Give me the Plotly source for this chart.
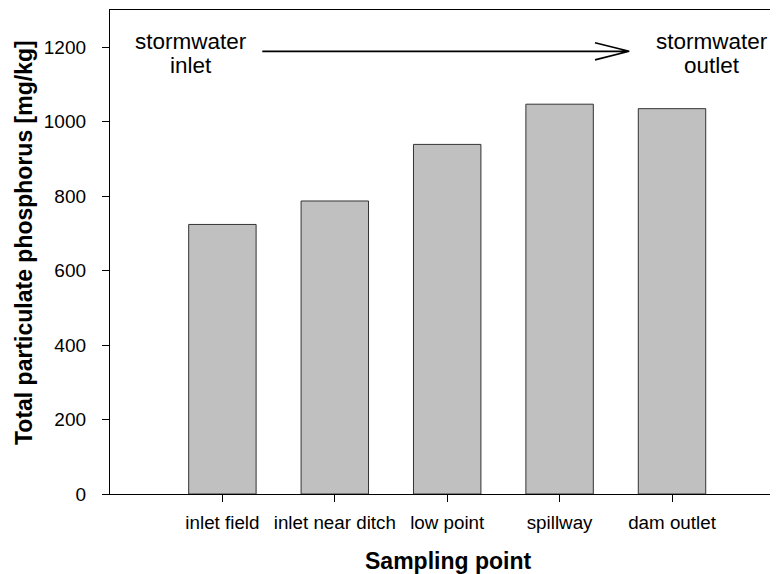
import plotly.graph_objects as go

categories = ["inlet field", "inlet near ditch", "low point", "spillway", "dam outlet"]
tpp_values = [724, 787, 939, 1047, 1035]
y_ticks = [0, 200, 400, 600, 800, 1000, 1200]
x_title = "Sampling point"
y_title = "Total particulate phosphorus [mg/kg]"

FONT = "Liberation Sans, Arial, sans-serif"
OFF = 8  # page body margin
W, H = 778 - OFF, 574 - OFF
ML, MR, MT, MB = 110 - OFF, 0, 10 - OFF, 80

fig = go.Figure()
fig.add_trace(go.Bar(
    x=list(range(len(categories))), y=tpp_values, width=0.6,
    marker=dict(color="#c0c0c0", line=dict(color="#333333", width=1)),
    showlegend=False, hoverinfo="skip",
))

# flow arrow (open arrowhead) in data coordinates
ax0, ax1, ay = 0.355, 3.619, 1189
head_x, head_dy = 3.315, 23
fig.add_shape(type="path", xref="x", yref="y",
              path=f"M {ax0},{ay} L {ax1},{ay} M {head_x},{ay+head_dy} L {ax1},{ay} L {head_x},{ay-head_dy}",
              line=dict(color="black", width=1.6))

ann_font = dict(family=FONT, size=22.5, color="black")
for txt, x, y in [("stormwater", -0.279, 1215), ("inlet", -0.279, 1152),
                  ("stormwater", 4.353, 1215), ("outlet", 4.353, 1152)]:
    fig.add_annotation(x=x, y=y, xref="x", yref="y", text=txt, showarrow=False,
                       xanchor="center", yanchor="middle", font=ann_font)

pw, ph = W - ML - MR, H - MT - MB
def px_x(p): return (p - OFF - ML) / pw
def px_y(p): return (H - MB - (p - OFF)) / ph

fig.add_annotation(x=px_x(24), y=px_y(243), xref="paper", yref="paper", text=f"<b>{y_title}</b>",
                   textangle=-90, showarrow=False, xanchor="center", yanchor="middle",
                   font=dict(family=FONT, size=23, color="black"))
fig.add_annotation(x=px_x(448), y=px_y(561), xref="paper", yref="paper", text=f"<b>{x_title}</b>",
                   showarrow=False, xanchor="center", yanchor="middle",
                   font=dict(family=FONT, size=23, color="black"))

fig.update_layout(
    width=W, height=H, margin=dict(l=ML, r=MR, t=MT, b=MB, pad=0),
    plot_bgcolor="white", paper_bgcolor="white",
    font=dict(family=FONT, size=19, color="black"),
)
fig.update_xaxes(range=[-1, 4.943], tickmode="array", tickvals=list(range(len(categories))),
                 ticktext=categories, ticks="outside", ticklen=7, tickcolor="black", tickwidth=1.3,
                 showline=True, linecolor="black", linewidth=1.3, mirror=True,
                 showgrid=False, zeroline=False, tickfont=dict(size=18.8), ticklabelstandoff=4)
fig.update_yaxes(range=[0, 1300], tickmode="array", tickvals=y_ticks,
                 ticks="outside", ticklen=7, tickcolor="black", tickwidth=1.3,
                 showline=True, linecolor="black", linewidth=1.3,
                 showgrid=False, zeroline=False, tickfont=dict(size=19), ticklabelstandoff=12)

fig.write_html("out.html")
